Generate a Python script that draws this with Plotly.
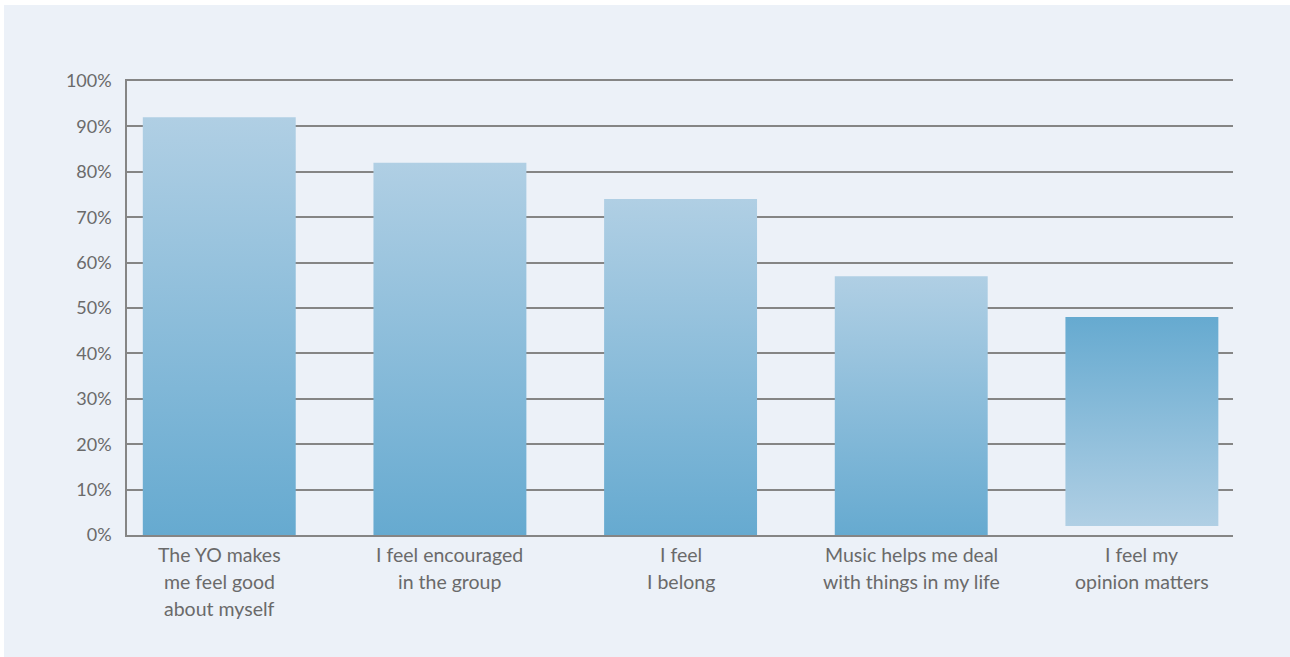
import plotly.graph_objects as go

# Survey statements (one list of text lines per bar)
statements = [
    ["The YO makes", "me feel good", "about myself"],
    ["I feel encouraged", "in the group"],
    ["I feel", "I belong"],
    ["Music helps me deal", "with things in my life"],
    ["I feel my", "opinion matters"],
]
# Share of respondents agreeing (%)
agree_pct = [92, 82, 74, 57, 48]
bar_start = [0, 0, 0, 0, 2]
y_ticks = [0, 10, 20, 30, 40, 50, 60, 70, 80, 90, 100]
y_tick_text = [f"{v}%" for v in y_ticks]

PANEL = "#ECF1F8"
GRID = "#858585"
TEXT = "#6A6A6A"
LIGHT = "#B0CFE4"
DARK = "#66AAD0"
FONT = "Lato"

bar_width = 0.663

fig = go.Figure()
for i, (top, base) in enumerate(zip(agree_pct, bar_start)):
    left, right = i - bar_width / 2, i + bar_width / 2
    # last bar has its gradient reversed
    scale = [[0, LIGHT], [1, DARK]] if i == len(agree_pct) - 1 else [[0, DARK], [1, LIGHT]]
    fig.add_trace(go.Scatter(
        x=[left, left, right, right, left],
        y=[base, top, top, base, base],
        mode="none",
        fill="toself",
        fillgradient=dict(type="vertical", colorscale=scale),
        hoverinfo="skip",
        showlegend=False,
    ))

# multi-line category labels under the axis
for i, lines in enumerate(statements):
    for k, line in enumerate(lines):
        fig.add_annotation(
            x=i, y=0, xref="x", yref="paper",
            text=line, showarrow=False,
            xanchor="center", yanchor="middle",
            yshift=-(19 + 27 * k),
            font=dict(family=FONT, size=19.5, color=TEXT),
        )

# panel background (thin white edge on the top and left)
plot_l, plot_r, plot_t, plot_b = 127, 1233, 81, 535
pw, ph = plot_r - plot_l, plot_b - plot_t
fig.add_shape(
    type="rect", xref="paper", yref="paper", layer="below",
    x0=(4 - plot_l) / pw, x1=(1290 - plot_l) / pw,
    y0=(plot_b - 657) / ph, y1=(plot_b - 5) / ph,
    fillcolor=PANEL, line=dict(width=0),
)

fig.update_layout(
    width=1290, height=657,
    margin=dict(l=plot_l, r=1290 - plot_r, t=plot_t, b=657 - plot_b),
    paper_bgcolor="white",
    plot_bgcolor=PANEL,
    font=dict(family=FONT, size=18, color=TEXT),
    xaxis=dict(
        range=[-0.4, 4.395],
        showticklabels=False, showgrid=False, zeroline=False,
        showline=True, mirror=True, linecolor=GRID, linewidth=1.5,
        fixedrange=True,
    ),
    yaxis=dict(
        range=[0, 100],
        tickvals=y_ticks, ticktext=y_tick_text,
        showgrid=True, gridcolor=GRID, gridwidth=1.5,
        zeroline=False,
        showline=True, linecolor=GRID, linewidth=1.5,
        ticks="", ticklabelstandoff=10,
        tickfont=dict(family=FONT, size=18, color=TEXT),
        fixedrange=True,
    ),
)

fig.write_html("out.html")
